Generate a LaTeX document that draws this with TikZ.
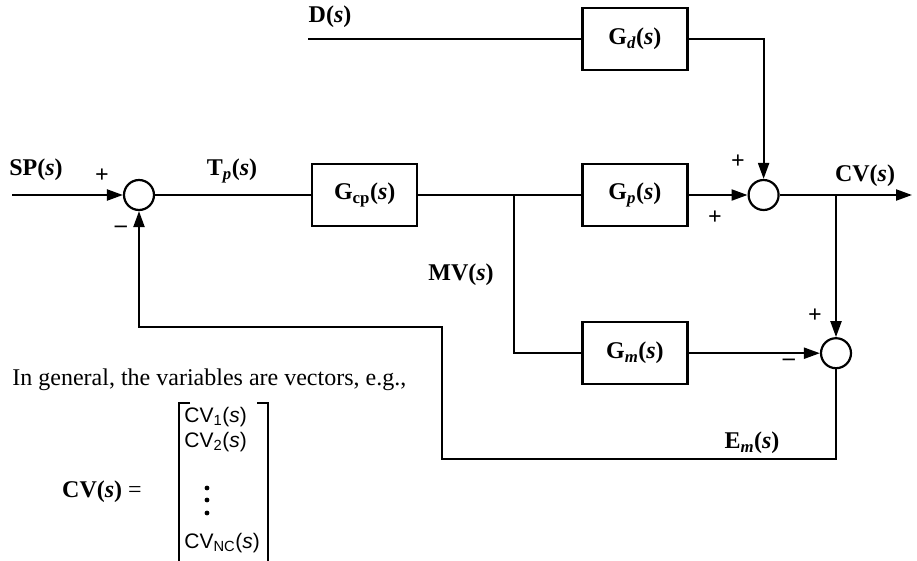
\documentclass[tikz,border=0pt]{standalone}
\usepackage{fontspec}
\setmainfont{Liberation Serif}
\newfontfamily\vecfont{Liberation Sans}
\usetikzlibrary{arrows.meta,positioning}
\newcommand{\ofs}{\textbf{(}\textbf{\textit{s}}\textbf{)}}
\begin{document}
\begin{tikzpicture}[x=1pt,y=1pt,font=\fontsize{24}{28}\selectfont,>={Triangle[length=16pt,width=11pt]},line width=2.2pt,b/.style={draw,minimum width=105pt,minimum height=62pt},sm/.style={draw,circle,minimum size=30pt,inner sep=0pt},v/.style={anchor=west,font=\vecfont\fontsize{21}{24}\selectfont},node distance=92pt]
\useasboundingbox (0,0) rectangle (917,-560);
\node[sm] (s1) at (139,-195) {};
\node[b,right=156pt of s1] (gcp) {\textbf{G}\textsubscript{\textbf{cp}}\ofs};
\node[b,right=163pt of gcp] (gp) {\textbf{G}\textsubscript{\textbf{\textit{p}}}\ofs};
\node[sm,right=59pt of gp] (s2) {};
\node[b,above=of gp] (gd) {\textbf{G}\textsubscript{\textbf{\textit{d}}}\ofs};
\node[b,below=94pt of gp] (gm) {\textbf{G}\textsubscript{\textbf{\textit{m}}}\ofs};
\coordinate (in) at (12,-195);
\coordinate (out) at (912,-195);
\coordinate (mb) at (514,-195);
\coordinate (cvb) at (836,-195);
\coordinate[left=273pt of gd.west] (din);
\node[sm] (s3) at (cvb |- gm) {};
\coordinate (e1) at (442,-459);
\coordinate (e2) at (442,-327);
\draw[->] (in)--(s1);\draw (s1)--(gcp);\draw (gcp)--(gp);
\draw[->] (gp)--(s2);\draw[->] (s2)--(out);
\draw (din)--(gd);\draw[->] (gd) -| (s2);
\draw (mb) |- (gm);\draw[->] (gm)--(s3);
\draw[->] (cvb)--(s3);
\draw[->] (s3) |- (e1) -- (e2) -| (s1);
% labels
\node (sp) at (36,-170) {\textbf{SP}\ofs};
\node (tp) at (232,-171) {\textbf{T}\textsubscript{\textbf{\textit{p}}}\ofs};
\node (d) at (330,-17) {\textbf{D}\ofs};
\node (cv) at (865,-176) {\textbf{CV}\ofs};
\node (mv) at (461,-275) {\textbf{MV}\ofs};
\node (em) at (752,-443) {\textbf{E}\textsubscript{\textbf{\textit{m}}}\ofs};
\node (p1) at (102,-176) {\textbf{+}};
\node (m1) at (121,-229) {\textbf{--}};
\node (p2) at (738,-162) {\textbf{+}};
\node (p3) at (715,-218) {\textbf{+}};
\node (p4) at (815,-316) {\textbf{+}};
\node (m2) at (789,-362) {\textbf{--}};
% vector example
\node[anchor=west] (gen) at (8,-380) {In general, the variables are vectors, e.g.,};
\node (eq) at (102,-492) {\textbf{CV}\ofs\ =};
\node[v] (c1) at (180,-417) {CV\textsubscript{1}(\textit{s})};
\node[v] (c2) at (180,-442) {CV\textsubscript{2}(\textit{s})};
\node[v] (cn) at (180,-543) {CV\textsubscript{NC}(\textit{s})};
\foreach \y in {-488,-500,-513} \fill (207,\y) circle (2.4pt);
\draw (190,-403) -- (179,-403) -- (179,-566);
\draw (257,-403) -- (268,-403) -- (268,-566);
\end{tikzpicture}
\end{document}
